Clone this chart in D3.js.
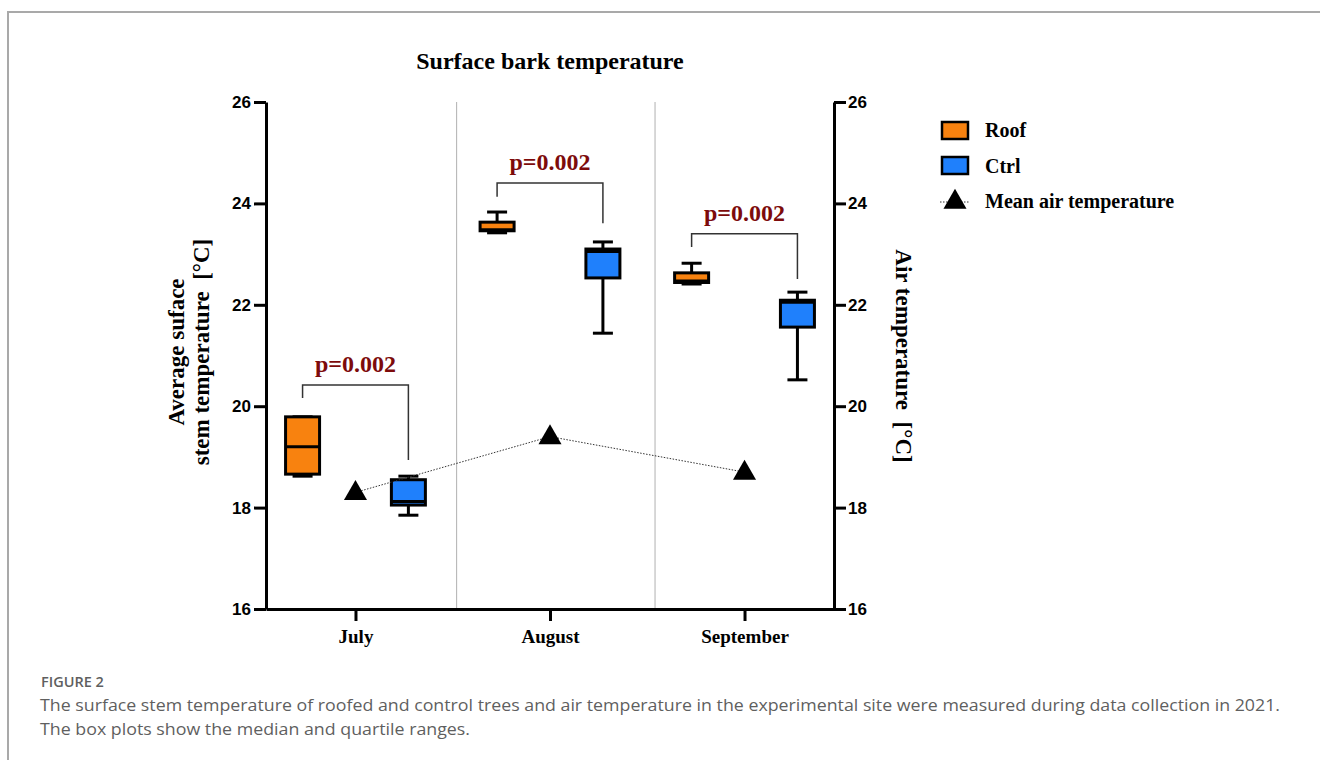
<!DOCTYPE html>
<html>
<head>
<meta charset="utf-8">
<script src="https://cdn.jsdelivr.net/npm/d3@7"></script>
<style>
  body { margin: 0; background: #fff; }
  svg { display: block; }
</style>
</head>
<body>
<svg id="chart"></svg>
<script>
// Chart values
const months = ["July", "August", "September"];
// [min, q1, median, q3, max]
const roofStats = [
  [18.62, 18.66, 19.20, 19.79, 19.79],
  [23.42, 23.46, 23.48, 23.63, 23.83],
  [22.41, 22.44, 22.47, 22.63, 22.82]
];
const ctrlStats = [
  [17.85, 18.05, 18.12, 18.55, 18.62],
  [21.44, 22.53, 23.05, 23.10, 23.24],
  [20.52, 21.56, 22.05, 22.09, 22.25]
];
const airTemp = [18.3, 19.4, 18.7];
const pLabels = ["p=0.002", "p=0.002", "p=0.002"];
// bracket levels: top bar, left leg end, right leg end
const bracketTop = [20.42, 24.40, 23.40];
const bracketLeft = [20.16, 24.13, 23.14];
const bracketRight = [18.94, 23.61, 22.51];
const yTicks = [16, 18, 20, 22, 24, 26];
const separators = [1.52, 2.54];
const legendItems = ["Roof", "Ctrl", "Mean air temperature"];

(function(){
    const W = 1320, H = 760;
    const plot = { left: 266, right: 834, top: 102, bottom: 609 };
    const serif = "'Liberation Serif', 'Times New Roman', serif";
    const sans = "'Liberation Sans', Arial, sans-serif";
    const roofColor = "#f8820f", ctrlColor = "#1f80fc";

    const svg = d3.select("#chart").attr("width", W).attr("height", H);

    // page frame
    svg.append("path")
        .attr("d", `M8,${H} V12 H${W}`)
        .attr("fill", "none")
        .attr("stroke", "#a9a9a9")
        .attr("stroke-width", 2);

    const x = d3.scaleLinear().domain([0.54, 3.46]).range([plot.left, plot.right]);
    const y = d3.scaleLinear().domain([16, 26]).range([plot.bottom, plot.top]);
    const off = 0.272, boxW = 34, capW = 20;

    // title
    svg.append("text")
        .attr("x", 550).attr("y", 69)
        .attr("text-anchor", "middle")
        .style("font-family", serif).style("font-weight", "bold").style("font-size", "24px")
        .text("Surface bark temperature");

    // month separators
    svg.selectAll(".sep").data(separators).enter().append("line")
        .attr("x1", d => x(d)).attr("x2", d => x(d))
        .attr("y1", plot.top).attr("y2", plot.bottom)
        .attr("stroke", "#b0b0b0").attr("stroke-width", 1);

    // axes
    const styleAxis = g => {
        g.select(".domain").attr("stroke", "#000").attr("stroke-width", 3);
        g.selectAll(".tick line").attr("stroke", "#000").attr("stroke-width", 3);
    };
    const yLeft = svg.append("g")
        .attr("transform", `translate(${plot.left},0)`)
        .call(d3.axisLeft(y).tickValues(yTicks).tickSize(12).tickSizeOuter(0).tickPadding(3));
    styleAxis(yLeft);
    yLeft.selectAll("text").style("font-family", sans).style("font-weight", "bold")
        .style("font-size", "17px").attr("fill", "#000");

    const yRight = svg.append("g")
        .attr("transform", `translate(${plot.right},0)`)
        .call(d3.axisRight(y).tickValues(yTicks).tickSize(12).tickSizeOuter(0).tickPadding(2));
    styleAxis(yRight);
    yRight.selectAll("text").style("font-family", sans).style("font-weight", "bold")
        .style("font-size", "17px").attr("fill", "#000");

    const xAxis = svg.append("g")
        .attr("transform", `translate(0,${plot.bottom})`)
        .call(d3.axisBottom(x).tickValues([1, 2, 3]).tickFormat(d => months[d - 1])
            .tickSize(12).tickSizeOuter(0).tickPadding(9));
    styleAxis(xAxis);
    xAxis.selectAll("text").style("font-family", serif).style("font-weight", "bold")
        .style("font-size", "19px").attr("fill", "#000");

    // axis titles
    const leftTitle = svg.append("g")
        .style("font-family", serif).style("font-weight", "bold").style("font-size", "23px");
    leftTitle.append("text")
        .attr("transform", "translate(184,352) rotate(-90)")
        .attr("text-anchor", "middle").text("Average suface");
    leftTitle.append("text")
        .attr("transform", "translate(209,352) rotate(-90)")
        .attr("text-anchor", "middle").attr("xml:space", "preserve")
        .text("stem temperature  [°C]");
    svg.append("text")
        .attr("transform", "translate(896,356) rotate(90)")
        .attr("text-anchor", "middle").attr("xml:space", "preserve")
        .style("font-family", serif).style("font-weight", "bold").style("font-size", "23px")
        .text("Air temperature  [°C]");

    // box plots
    const drawBoxes = (stats, shift, color) => {
        const g = svg.append("g").selectAll("g").data(stats).enter().append("g");
        const cx = (d, i) => x(i + 1 + shift);
        // whiskers
        g.append("line")
            .attr("x1", cx).attr("x2", cx)
            .attr("y1", d => y(d[0])).attr("y2", d => y(d[4]))
            .attr("stroke", "#000").attr("stroke-width", 3);
        g.append("line")
            .attr("x1", (d, i) => cx(d, i) - capW / 2).attr("x2", (d, i) => cx(d, i) + capW / 2)
            .attr("y1", d => y(d[0])).attr("y2", d => y(d[0]))
            .attr("stroke", "#000").attr("stroke-width", 3);
        g.append("line")
            .attr("x1", (d, i) => cx(d, i) - capW / 2).attr("x2", (d, i) => cx(d, i) + capW / 2)
            .attr("y1", d => y(d[4])).attr("y2", d => y(d[4]))
            .attr("stroke", "#000").attr("stroke-width", 3);
        // box
        g.append("rect")
            .attr("x", (d, i) => cx(d, i) - boxW / 2).attr("width", boxW)
            .attr("y", d => y(d[3])).attr("height", d => y(d[1]) - y(d[3]))
            .attr("fill", color).attr("stroke", "#000").attr("stroke-width", 3);
        // median
        g.append("line")
            .attr("x1", (d, i) => cx(d, i) - boxW / 2).attr("x2", (d, i) => cx(d, i) + boxW / 2)
            .attr("y1", d => y(d[2])).attr("y2", d => y(d[2]))
            .attr("stroke", "#000").attr("stroke-width", 3);
    };
    drawBoxes(roofStats, -off, roofColor);
    drawBoxes(ctrlStats, off, ctrlColor);

    // mean air temperature
    const tri = d3.symbol().type(d3.symbolTriangle).size(230);
    svg.append("path")
        .datum(airTemp)
        .attr("d", d3.line().x((d, i) => x(i + 1)).y(d => y(d)))
        .attr("fill", "none").attr("stroke", "#333").attr("stroke-width", 1)
        .attr("stroke-dasharray", "1.5,1.5");
    svg.selectAll(".tri").data(airTemp).enter().append("path")
        .attr("d", tri)
        .attr("transform", (d, i) => `translate(${x(i + 1)},${y(d) + 1})`)
        .attr("fill", "#000");

    // significance brackets
    const br = svg.append("g").selectAll("g").data(months).enter().append("g");
    br.append("path")
        .attr("d", (d, i) => {
            const xl = x(i + 1 - off), xr = x(i + 1 + off);
            return `M${xl},${y(bracketLeft[i])} V${y(bracketTop[i])} H${xr} V${y(bracketRight[i])}`;
        })
        .attr("fill", "none").attr("stroke", "#333").attr("stroke-width", 1.5);
    br.append("text")
        .attr("x", (d, i) => x(i + 1))
        .attr("y", (d, i) => y(bracketTop[i]) - 13)
        .attr("text-anchor", "middle")
        .style("font-family", serif).style("font-weight", "bold").style("font-size", "24px")
        .attr("fill", "#7d0b0b")
        .text((d, i) => pLabels[i]);

    // legend
    const lg = svg.append("g").attr("transform", "translate(942,0)");
    const legendColors = [roofColor, ctrlColor];
    legendColors.forEach((c, i) => {
        lg.append("rect")
            .attr("x", 0).attr("y", 122 + i * 35).attr("width", 26).attr("height", 17)
            .attr("fill", c).attr("stroke", "#000").attr("stroke-width", 2.5);
    });
    lg.append("line")
        .attr("x1", -2).attr("x2", 28).attr("y1", 202).attr("y2", 202)
        .attr("stroke", "#333").attr("stroke-width", 1).attr("stroke-dasharray", "1.5,1.5");
    lg.append("path")
        .attr("d", tri).attr("transform", "translate(13,202)").attr("fill", "#000");
    lg.selectAll("text").data(legendItems).enter().append("text")
        .attr("x", 43).attr("y", (d, i) => 137 + i * 35.5)
        .style("font-family", serif).style("font-weight", "bold").style("font-size", "20px")
        .text(d => d);

    // caption
    const cap = svg.append("g").style("font-family", "'Open Sans', Lato, sans-serif").attr("fill", "#5f5f5f");
    cap.append("text").attr("x", 41).attr("y", 687)
        .style("font-size", "14.5px").style("font-weight", "600")
        .text("FIGURE 2");
    cap.append("text").attr("x", 40).attr("y", 711)
        .style("font-size", "16.5px").attr("textLength", 1240).attr("lengthAdjust", "spacingAndGlyphs")
        .text("The surface stem temperature of roofed and control trees and air temperature in the experimental site were measured during data collection in 2021.");
    cap.append("text").attr("x", 40).attr("y", 735)
        .style("font-size", "16.5px").attr("textLength", 430).attr("lengthAdjust", "spacingAndGlyphs")
        .text("The box plots show the median and quartile ranges.");
})();
</script>
</body>
</html>
